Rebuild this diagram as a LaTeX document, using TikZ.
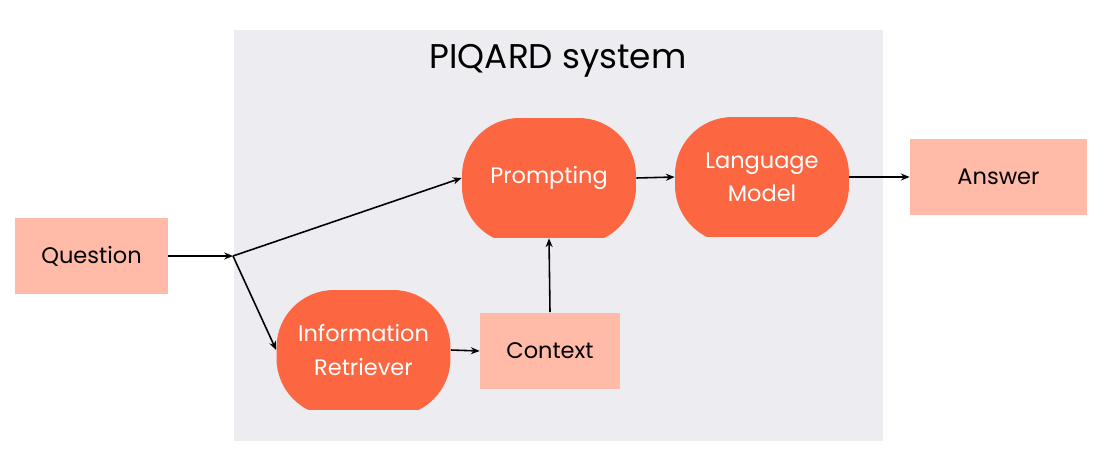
\documentclass[tikz,border=0pt]{standalone}
\usepackage{fontspec}
\setmainfont{Poppins}
\usetikzlibrary{arrows.meta}
\definecolor{sysgray}{HTML}{EDECF1}
\definecolor{procorange}{HTML}{FC6641}
\definecolor{datapink}{HTML}{FFBAA8}
\tikzset{
  databox/.style={fill=datapink, minimum width=#1, minimum height=1.54cm, inner sep=0pt, font=\fontsize{12.8}{15}\selectfont, text=black},
  procbox/.style={minimum width=3.48cm, minimum height=2.4cm, inner sep=0pt, align=center,
    font=\fontsize{12.8}{19}\selectfont, text=white,
    path picture={\fill[procorange, rounded corners=1.15cm]
      (path picture bounding box.north west) rectangle ([yshift=-0.12cm]path picture bounding box.south east);}},
  flow/.style={-{Stealth[length=5pt,width=4pt]}, line width=0.9pt, black}
}
\begin{document}
\begin{tikzpicture}[x=0.02cm,y=-0.02cm]
\useasboundingbox[fill=white] (0,0) rectangle (1101,466);
\fill[sysgray] (234,30) rectangle (883,441);
\node[font=\fontsize{19.5}{24}\selectfont] (title) at (558,61) {PIQARD system};
\node[databox=3.06cm] (q) at (91.5,256) {Question};
\node[databox=3.54cm] (ans) at (998.5,177) {Answer};
\node[databox=2.8cm] (ctx) at (550,351) {Context};
\node[procbox] (pr) at (549,178) {Prompting};
\node[procbox] (lm) at (762,177) {Language\\Model};
\node[procbox] (ir) at (363.5,350) {Information\\Retriever};
\coordinate (br) at (233,256);
\draw[flow] (q.east) -- (br);
\draw[flow] (br) -- (pr.west);
\draw[flow] (br) -- (ir.west);
\draw[flow] (ir.east) -- (ctx.west);
\draw[flow] (ctx.north) -- (pr.south);
\draw[flow] (pr.east) -- (lm.west);
\draw[flow] (lm.east) -- (ans.west);
\end{tikzpicture}
\end{document}
